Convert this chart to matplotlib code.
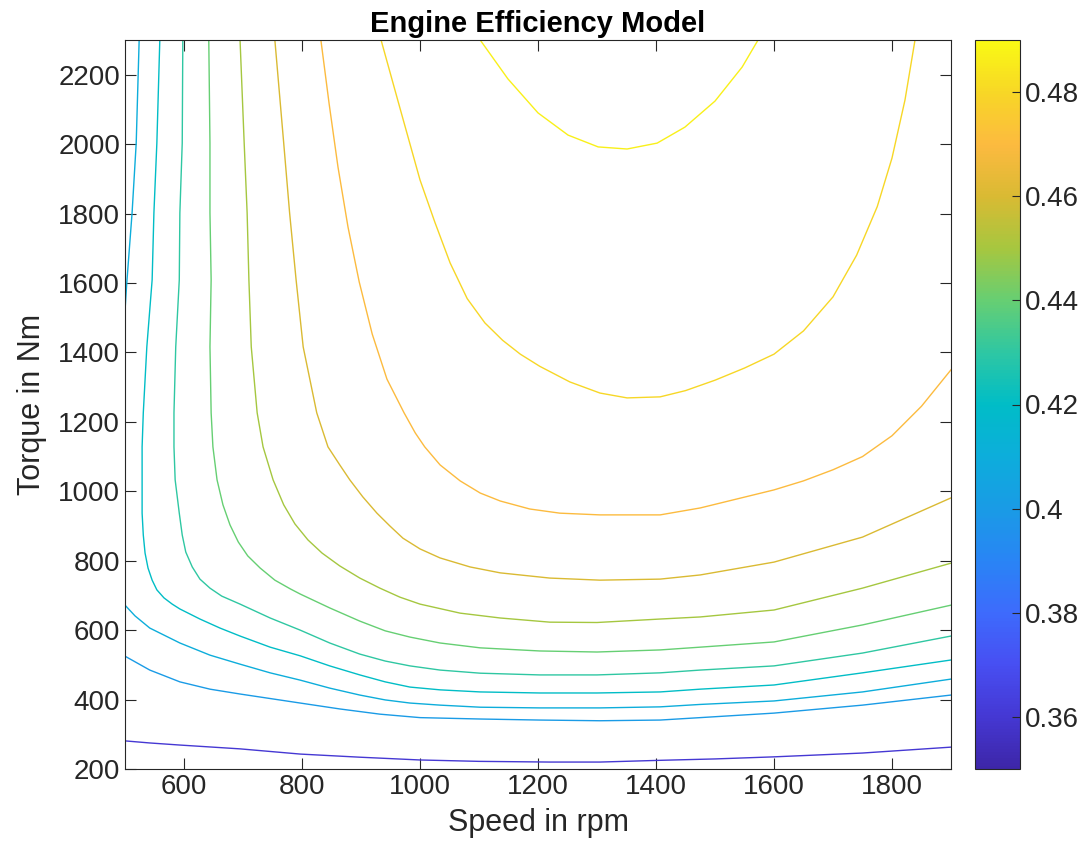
import matplotlib
matplotlib.use('Agg')
import matplotlib.pyplot as plt
from matplotlib.colors import LinearSegmentedColormap, Normalize
from matplotlib.cm import ScalarMappable

plt.rcParams['font.family'] = ['Liberation Sans', 'DejaVu Sans']

# contour levels (efficiency)
levels = [0.36, 0.40, 0.41, 0.41, 0.42, 0.43, 0.44, 0.45, 0.46, 0.47, 0.48, 0.487]

# each contour: speed (rpm) and torque (Nm) points
a_rpm = [500, 542, 593, 695, 797, 898, 1000, 1100, 1220, 1305, 1407, 1500, 1600, 1750, 1900]
a_nm = [281, 275, 269, 258, 243, 234, 226, 222, 220, 220, 225, 229, 235, 246, 263]

b_rpm = [500, 542, 593, 644, 695, 797, 864, 932, 1000, 1102, 1203, 1305, 1407, 1475, 1600, 1750, 1900]
b_nm = [525, 485, 451, 430, 416, 390, 373, 358, 348, 344, 341, 339, 341, 348, 361, 384, 413]

c_rpm = [500, 517, 542, 593, 644, 695, 746, 797, 847, 898, 941, 983, 1034, 1102, 1203, 1305,
         1407, 1475, 1600, 1750, 1900]
c_nm = [672, 641, 606, 563, 528, 502, 477, 456, 433, 413, 399, 390, 384, 378, 376, 376,
        379, 386, 396, 422, 459]

l_rpm = [500, 503, 512, 519, 524]
l_nm = [1520, 1600, 1802, 2003, 2300]

d_rpm = [559, 554, 549, 546, 537, 531, 529, 529, 529, 531, 534, 539, 546, 554, 566, 580, 593,
         627, 661, 695, 746, 797, 847, 898, 941, 983, 1034, 1102, 1203, 1300, 1407, 1475,
         1600, 1750, 1900]
d_nm = [2300, 2003, 1802, 1609, 1416, 1226, 1128, 1033, 937, 874, 822, 779, 744, 716, 693, 675, 661,
        632, 606, 583, 551, 526, 497, 471, 451, 436, 428, 422, 419, 419, 422, 430,
        442, 477, 514]

e_rpm = [598, 597, 593, 592, 586, 583, 583, 585, 592, 597, 603, 614, 627, 644, 664, 695,
         746, 797, 847, 898, 941, 983, 1034, 1102, 1203, 1300, 1407, 1475, 1600, 1750, 1900]
e_nm = [2300, 2003, 1802, 1609, 1416, 1226, 1128, 1033, 937, 874, 825, 782, 747, 721, 698, 675,
        635, 600, 563, 531, 511, 497, 485, 476, 471, 471, 477, 485, 497, 534, 583]

f_rpm = [642, 644, 644, 646, 644, 646, 649, 656, 666, 678, 692, 708, 729, 754, 780, 797,
         847, 898, 941, 983, 1034, 1102, 1203, 1300, 1407, 1475, 1600, 1750, 1900]
f_nm = [2300, 2003, 1802, 1609, 1416, 1226, 1128, 1033, 961, 903, 854, 814, 779, 744, 719, 704,
        664, 626, 598, 580, 563, 549, 540, 537, 543, 551, 566, 615, 672]

g_rpm = [695, 702, 707, 710, 714, 724, 734, 751, 769, 788, 810, 834, 864, 898, 932, 966,
         1000, 1068, 1136, 1220, 1300, 1407, 1475, 1600, 1750, 1900]
g_nm = [2300, 2003, 1802, 1609, 1416, 1226, 1128, 1033, 961, 906, 860, 822, 785, 750, 721, 695,
        675, 649, 635, 623, 622, 632, 638, 658, 721, 793]

h_rpm = [754, 769, 779, 790, 802, 825, 844, 864, 881, 903, 927, 949, 971, 1000, 1034, 1085,
         1136, 1220, 1305, 1407, 1475, 1600, 1750, 1900]
h_nm = [2300, 2003, 1802, 1609, 1416, 1226, 1128, 1076, 1033, 984, 937, 900, 865, 834, 808, 782,
        765, 750, 744, 747, 759, 796, 868, 981]

i_rpm = [832, 846, 861, 878, 897, 919, 944, 973, 992, 1008, 1034, 1068, 1102, 1136, 1186,
         1237, 1305, 1407, 1475, 1600, 1650, 1700, 1750, 1800, 1850, 1900]
i_nm = [2300, 2116, 1934, 1761, 1603, 1453, 1323, 1226, 1168, 1128, 1076, 1030, 995, 972, 949,
        937, 932, 932, 952, 1004, 1030, 1062, 1100, 1160, 1245, 1350]

j_rpm = [934, 966, 1000, 1025, 1051, 1080, 1110, 1140, 1170, 1203, 1254, 1305, 1351, 1407,
         1450, 1500, 1550, 1600, 1650, 1700, 1740, 1775, 1800, 1822, 1839]
j_nm = [2300, 2104, 1897, 1776, 1658, 1555, 1485, 1435, 1395, 1360, 1315, 1283, 1269, 1272,
        1290, 1320, 1355, 1395, 1462, 1560, 1680, 1820, 1960, 2127, 2300]

k_rpm = [1102, 1149, 1200, 1251, 1302, 1351, 1402, 1449, 1500, 1546, 1573]
k_nm = [2300, 2188, 2090, 2026, 1992, 1986, 2003, 2049, 2124, 2222, 2300]

contours = [(a_rpm, a_nm), (b_rpm, b_nm), (c_rpm, c_nm), (l_rpm, l_nm), (d_rpm, d_nm),
            (e_rpm, e_nm), (f_rpm, f_nm), (g_rpm, g_nm), (h_rpm, h_nm), (i_rpm, i_nm),
            (j_rpm, j_nm), (k_rpm, k_nm)]

# rough parula
parula = LinearSegmentedColormap.from_list('parula', [
    (0.24, 0.15, 0.66), (0.27, 0.22, 0.83), (0.28, 0.31, 0.95), (0.24, 0.42, 0.99),
    (0.16, 0.52, 0.96), (0.10, 0.61, 0.90), (0.05, 0.68, 0.86), (0.00, 0.74, 0.78),
    (0.18, 0.78, 0.64), (0.40, 0.81, 0.45), (0.65, 0.78, 0.25), (0.85, 0.73, 0.20),
    (0.99, 0.73, 0.25), (0.97, 0.84, 0.15), (0.98, 0.98, 0.08)])
norm = Normalize(vmin=0.35, vmax=0.49)

fig = plt.figure(figsize=(10.83, 8.56), dpi=100)
ax = fig.add_axes([125 / 1083, 87 / 856, 826 / 1083, 729 / 856])
cax = fig.add_axes([975 / 1083, 87 / 856, 45 / 1083, 729 / 856])

for lev, (xs, ys) in zip(levels, contours):
    ax.plot(xs, ys, color=parula(norm(lev)), lw=1.0)

ax.set_xlim(500, 1900)
ax.set_ylim(200, 2300)
ax.set_xticks(range(600, 1900, 200))
ax.set_yticks(range(200, 2300, 200))
dark = (0.15, 0.15, 0.15)
ax.tick_params(direction='in', length=8, width=0.8, top=True, right=True,
               labelsize=20, colors=dark)
for sp in ax.spines.values():
    sp.set_color(dark)
    sp.set_linewidth(0.8)
ax.set_xlabel('Speed in rpm', fontsize=22, color=dark, labelpad=6)
ax.set_ylabel('Torque in Nm', fontsize=22, color=dark, labelpad=8)
ax.set_title('Engine Efficiency Model', fontsize=21, fontweight='bold', pad=6)

sm = ScalarMappable(norm=norm, cmap=parula)
cb = fig.colorbar(sm, cax=cax)
cb.set_ticks([0.36, 0.38, 0.40, 0.42, 0.44, 0.46, 0.48])
cb.set_ticklabels(['0.36', '0.38', '0.4', '0.42', '0.44', '0.46', '0.48'])
cax.tick_params(direction='in', length=6, width=0.8, labelsize=20, colors=dark)
cb.outline.set_edgecolor(dark)
cb.outline.set_linewidth(0.8)

fig.savefig('out.png', dpi=100)
